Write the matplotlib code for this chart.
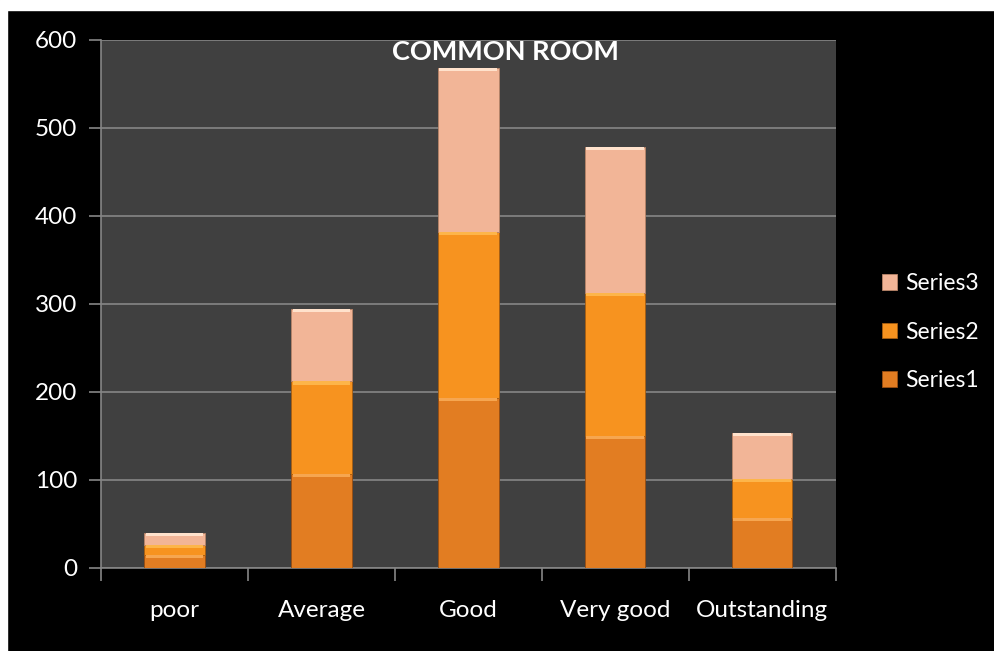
import matplotlib
matplotlib.use("Agg")
import matplotlib.pyplot as plt
from matplotlib.patches import Rectangle
import numpy as np

categories = ["poor", "Average", "Good", "Very good", "Outstanding"]
series1 = [15, 107, 193, 150, 57]
series2 = [11, 105, 189, 163, 44]
series3 = [14, 82, 186, 165, 52]
series_names = ["Series1", "Series2", "Series3"]
yticks = [0, 100, 200, 300, 400, 500, 600]

colors = ["#E27D22", "#F7931F", "#F2B597"]
highlights = ["#F6A650", "#FDB54A", "#FFE2CC"]
edges = ["#9A4E10", "#A85E10", "#B88468"]

plt.rcParams['font.family'] = ['Lato', 'DejaVu Sans']

fig = plt.figure(figsize=(9.95, 6.51), dpi=100, facecolor="black")
# white strips at top and left
fig.patches.append(Rectangle((0, 0), 0.007, 1, transform=fig.transFigure, color="white", zorder=0))
fig.patches.append(Rectangle((0, 1 - 0.0155), 1, 0.0155, transform=fig.transFigure, color="white", zorder=0))

ax = fig.add_axes([0.1015, 0.1275, 0.7385, 0.8111])
ax.set_facecolor("#404040")

x = np.arange(len(categories))
width = 0.41
bottom = np.zeros(len(categories))
handles = []
for i, vals in enumerate([series1, series2, series3]):
    vals = np.array(vals, dtype=float)
    b = ax.bar(x, vals, width, bottom=bottom, color=colors[i], edgecolor=edges[i],
               linewidth=0.6, zorder=3, label=series_names[i])
    handles.append(b)
    # bevel highlight on top of each segment
    h = np.minimum(3.5, vals * 0.25)
    ax.bar(x, h, width * 0.96, bottom=bottom + vals - h, color=highlights[i],
           linewidth=0, zorder=4)
    bottom = bottom + vals

ax.set_xlim(-0.5, len(categories) - 0.5)
ax.set_ylim(0, 600)
ax.set_yticks(yticks)
ax.yaxis.grid(True, color="#868686", linewidth=1.2, zorder=1)
ax.set_axisbelow(True)

ax.set_xticks(np.arange(len(categories) + 1) - 0.5, minor=False)
ax.set_xticklabels([])
ax.set_xticks(x, minor=True)
ax.set_xticklabels(categories, minor=True)
ax.tick_params(axis="x", which="major", length=9, color="#868686", width=1.2, direction="out")
ax.tick_params(axis="x", which="minor", length=0, pad=23, labelsize=17.5, labelcolor="white")
ax.tick_params(axis="y", length=9, color="#868686", width=1.2, labelsize=17.5, labelcolor="white", pad=8)

for s in ["top", "right"]:
    ax.spines[s].set_visible(False)
for s in ["left", "bottom"]:
    ax.spines[s].set_color("#868686")
    ax.spines[s].set_linewidth(1.2)

ax.text(0.55, 1.0, "COMMON ROOM", transform=ax.transAxes, ha="center", va="top",
        color="white", fontsize=19.5, fontweight="bold", zorder=5)

leg = fig.legend(handles[::-1], series_names[::-1], loc="center left",
                 bbox_to_anchor=(0.866, 0.49), frameon=False, fontsize=16.5,
                 labelcolor="white", handlelength=0.65, handleheight=0.65,
                 handletextpad=0.35, labelspacing=1.2)

fig.savefig("out.png", dpi=100, facecolor=fig.get_facecolor())
